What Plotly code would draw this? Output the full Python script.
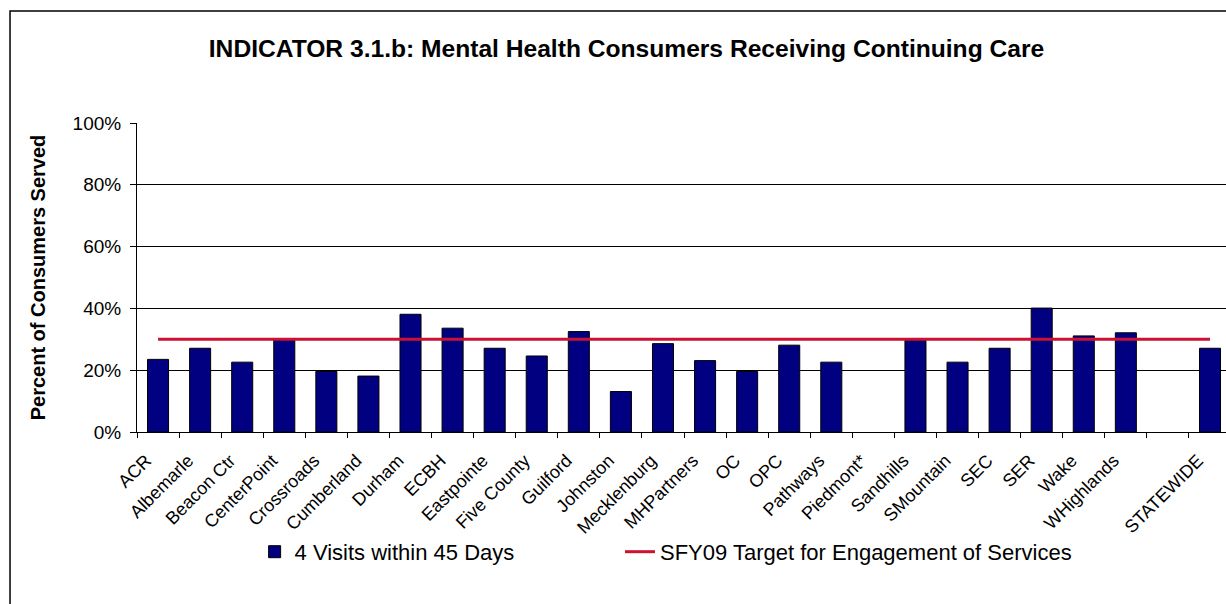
import plotly.graph_objects as go

categories = ["ACR", "Albemarle", "Beacon Ctr", "CenterPoint", "Crossroads", "Cumberland",
              "Durham", "ECBH", "Eastpointe", "Five County", "Guilford", "Johnston",
              "Mecklenburg", "MHPartners", "OC", "OPC", "Pathways", "Piedmont*",
              "Sandhills", "SMountain", "SEC", "SER", "Wake", "WHighlands", " ", "STATEWIDE"]
visits_45_days = [23.5, 27.1, 22.6, 29.8, 19.6, 18.1, 38.1, 33.6, 27.1, 24.6, 32.5, 13.1,
                  28.6, 23.1, 19.6, 28.1, 22.6, None, 29.6, 22.6, 27.1, 40.1, 31.1, 32.1,
                  None, 27.1]
target = [30] * len(categories)
y_ticks = [0, 20, 40, 60, 80, 100]
y_tick_labels = ["0%", "20%", "40%", "60%", "80%", "100%"]

FONT = "Liberation Sans, Arial, sans-serif"

fig = go.Figure()
fig.add_trace(go.Bar(
    x=categories, y=visits_45_days, name="4 Visits within 45 Days",
    marker=dict(color="#000080", line=dict(color="black", width=1)),
    width=0.5, legend="legend", showlegend=True,
))
fig.add_trace(go.Scatter(
    x=categories, y=target, name="SFY09 Target for Engagement of Services",
    mode="lines", line=dict(color="#CC1133", width=3), legend="legend2", showlegend=True,
))

legend_style = dict(orientation="h", xanchor="left", y=-0.388, yanchor="middle",
                    font=dict(size=22, family=FONT), bgcolor="rgba(0,0,0,0)")

fig.update_layout(
    width=1226, height=604,
    margin=dict(l=137, r=0, t=123, b=172),
    paper_bgcolor="white", plot_bgcolor="white",
    font=dict(family=FONT, color="black"),
    showlegend=True,
    title=dict(text="<b>INDICATOR 3.1.b: Mental Health Consumers Receiving Continuing Care</b>",
               x=0.511, xanchor="center", y=0.92, yanchor="middle",
               font=dict(size=24.6, family=FONT)),
    legend=dict(x=0.108, **legend_style),
    legend2=dict(x=0.4435, **legend_style),
    shapes=[dict(type="rect", xref="paper", yref="paper", x0=-0.1166, x1=1.2,
                 y0=-0.7, y1=1.3625, line=dict(color="black", width=1.5), layer="below")],
)

fig.update_xaxes(
    type="category", range=[-0.5, 25.38], tickson="boundaries",
    ticks="outside", ticklen=5, tickcolor="black",
    showline=True, linecolor="black", linewidth=1,
    tickangle=-45, tickfont=dict(size=18, family=FONT),
    ticklabelstandoff=10, ticklabelshift=-12,
    showgrid=False,
)
fig.update_yaxes(
    range=[0, 100], tickvals=y_ticks, ticktext=y_tick_labels,
    ticks="outside", ticklen=6, tickcolor="black",
    showline=True, linecolor="black", linewidth=1,
    showgrid=True, gridcolor="black", gridwidth=1,
    tickfont=dict(size=19, family=FONT), ticklabelstandoff=5,
    title=dict(text="<b>Percent of Consumers Served</b>", font=dict(size=20, family=FONT), standoff=21),
    zeroline=False,
)

fig.write_html("out.html", config={"displayModeBar": False},
               post_script="document.body.style.margin='0';")
